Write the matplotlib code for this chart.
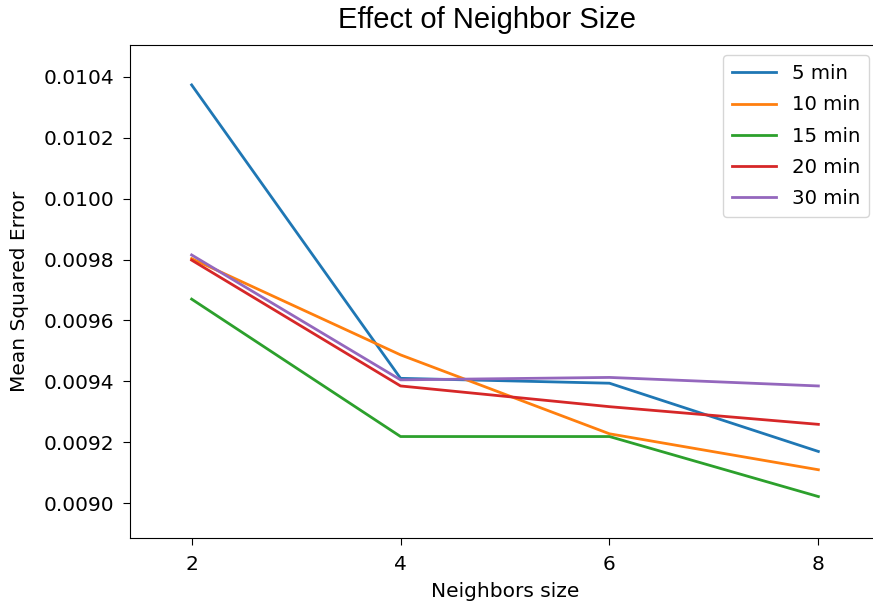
import matplotlib
matplotlib.use("Agg")
import matplotlib.pyplot as plt

neighbors = [2, 4, 6, 8]
series_labels = ["5 min", "10 min", "15 min", "20 min", "30 min"]
mse_5 = [0.010373, 0.009410, 0.009394, 0.009170]
mse_10 = [0.009803, 0.009487, 0.009228, 0.009110]
mse_15 = [0.009670, 0.009219, 0.009219, 0.009022]
mse_20 = [0.009798, 0.009385, 0.009317, 0.009259]
mse_30 = [0.009815, 0.009405, 0.009413, 0.009385]
y_ticks = [0.0090, 0.0092, 0.0094, 0.0096, 0.0098, 0.0100, 0.0102, 0.0104]
x_ticks = [2, 4, 6, 8]

W, H = 873, 607
fig = plt.figure(figsize=(W / 100, H / 100), dpi=100)
left, right, top, bottom = 130, 880, 45, 538
ax = fig.add_axes([left / W, 1 - bottom / H, (right - left) / W, (bottom - top) / H])
for vals, lab in zip([mse_5, mse_10, mse_15, mse_20, mse_30], series_labels):
    ax.plot(neighbors, vals, label=lab, linewidth=2)

ax.set_xticks(x_ticks)
ax.set_yticks(y_ticks)
ax.set_yticklabels([f"{v:.4f}" for v in y_ticks])
ax.set_ylim(0.008886, 0.010504)
ax.set_xlim(1.41, 8.59)
ax.tick_params(axis="y", labelsize=14.5, length=5, pad=6.5)
ax.tick_params(axis="x", labelsize=14.5, length=5, pad=7)
ax.set_xlabel("Neighbors size", fontsize=14.5, labelpad=6)
ax.set_ylabel("Mean Squared Error", fontsize=14.5, labelpad=10)
fig.text(487.5 / W, 1 - 28 / H, "Effect of Neighbor Size", ha="center", va="baseline",
         fontsize=21, family="Liberation Sans")
x0 = (723 - left) / (right - left)
y0 = 1 - (217 - top) / (bottom - top)
leg = ax.legend(loc="lower left", fontsize=14.2, bbox_to_anchor=(x0, y0),
                borderaxespad=0, handlelength=2.25, handletextpad=0.8,
                labelspacing=0.62, borderpad=0.45)
fig.savefig("out.png", dpi=100)
